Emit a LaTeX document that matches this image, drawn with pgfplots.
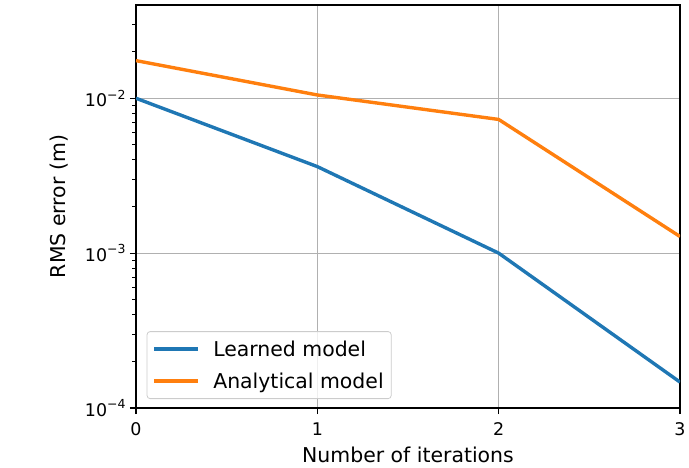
\documentclass[border=0pt]{standalone}
\usepackage{fontspec}
\setmainfont{DejaVu Sans}
\usepackage{pgfplots}
\pgfplotsset{compat=1.18}

\definecolor{learned}{HTML}{1F77B4}
\definecolor{analytical}{HTML}{FF7F0E}
\definecolor{gridgray}{HTML}{B0B0B0}
\definecolor{legendedge}{HTML}{CCCCCC}

% power-of-ten label set in the text font
\newcommand{\pten}[1]{10\raisebox{7.5bp}{\fontsize{12.5}{14}\selectfont −#1}}

\begin{document}
\begin{tikzpicture}
\useasboundingbox (-136bp,-60bp) rectangle (553bp,408bp);
\begin{axis}[
  at={(0,0)}, anchor=south west,
  scale only axis, width=544bp, height=403bp,
  ymode=log,
  xmin=0, xmax=3, ymin=1e-4, ymax=0.04,
  axis line style={line width=1.2bp},
  grid=major,
  major grid style={gridgray, line width=1.1bp},
  tick align=outside, tick pos=left,
  major tick length=6bp, minor tick length=3.5bp,
  every tick/.style={black, line width=1.1bp},
  minor tick style={black, line width=0.9bp},
  xtick={0,1,2,3}, xticklabels={0,1,2,3},
  ytick={1e-4,1e-3,1e-2},
  yticklabels={\pten{4},\pten{3},\pten{2}},
  minor ytick={2e-4,3e-4,4e-4,5e-4,6e-4,7e-4,8e-4,9e-4,
               2e-3,3e-3,4e-3,5e-3,6e-3,7e-3,8e-3,9e-3,
               2e-2,3e-2},
  ticklabel style={font=\fontsize{17.5}{20}\selectfont},
  xticklabel style={yshift=-5bp},
  yticklabel style={xshift=-1bp},
  xlabel={Number of iterations},
  ylabel={RMS error (m)},
  xlabel style={yshift=-4bp},
  ylabel style={yshift=10bp},
  label style={font=\fontsize{20.5}{24}\selectfont},
  legend cell align=left,
  legend style={
    at={(0,0)}, anchor=south west, xshift=10.7bp, yshift=9bp,
    draw=legendedge, line width=0.8bp, rounded corners=3bp,
    fill=white, fill opacity=0.8, text opacity=1,
    font=\fontsize{20.5}{24}\selectfont,
    inner xsep=5.5bp, inner ysep=7bp, row sep=11bp,
  },
  legend image code/.code={
    \draw[#1] (0bp,0bp) -- (44bp,0bp);
    \path[draw=none] (0bp,0bp) -- (57bp,0bp);
  },
]
\addplot[learned, line width=3.4bp] coordinates {
  (0,0.0100) (1,0.00362) (2,0.00100) (3,0.000147)
};
\addlegendentry{Learned model}
\addplot[analytical, line width=3.4bp] coordinates {
  (0,0.0175) (1,0.0105) (2,0.00730) (3,0.00128)
};
\addlegendentry{Analytical model}
\end{axis}
\end{tikzpicture}
\end{document}
